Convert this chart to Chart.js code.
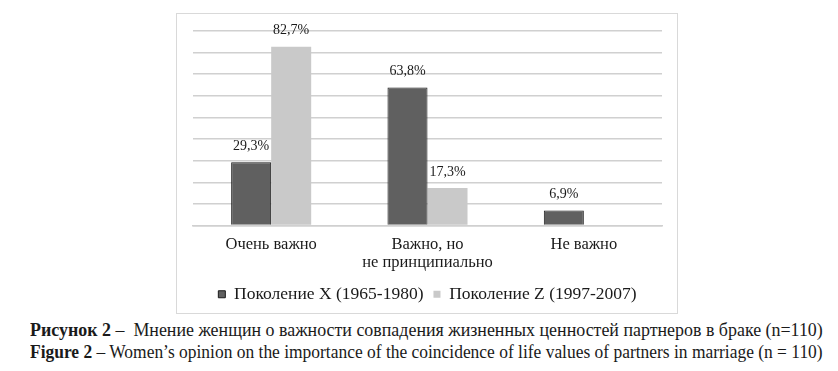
<!DOCTYPE html>
<html>
<head>
<meta charset="utf-8">
<script src="https://cdn.jsdelivr.net/npm/chart.js@4"></script>
<style>
  body { margin: 0; background: #fff; width: 838px; height: 371px; position: relative; overflow: hidden; font-family: "Liberation Serif", serif; }
  #box { position: absolute; left: 176px; top: 13px; width: 500px; height: 299px; border: 1px solid #d9d9d9; }
  #box canvas { display: block; }
  .cap { position: absolute; left: 30px; font-size: 19px; line-height: 22px; color: #1a1a1a; white-space: nowrap; transform-origin: 0 50%; }
</style>
</head>
<body>
<div id="box"><canvas id="chart" width="500" height="299"></canvas></div>
<div class="cap" id="cap1" style="top:319px"><b>Рисунок 2</b> –&nbsp; Мнение женщин о важности совпадения жизненных ценностей партнеров в браке (n=110)</div>
<div class="cap" id="cap2" style="top:341px"><b>Figure 2</b> – Women’s opinion on the importance of the coincidence of life values of partners in marriage (n = 110)</div>
<script>
const categories = [["Очень важно"], ["Важно, но", "не принципиально"], ["Не важно"]];
const genX = [29.3, 63.8, 6.9];
const genZ = [82.7, 17.3, null];
const seriesNames = ["Поколение X (1965-1980)", "Поколение Z (1997-2007)"];

const serif = "'Liberation Serif', serif";

// value labels above bars, with comma decimals
const valueLabels = {
  id: "valueLabels",
  afterDatasetsDraw(c) {
    const ctx = c.ctx;
    ctx.save();
    ctx.font = "14px " + serif;
    ctx.fillStyle = "#1a1a1a";
    ctx.textAlign = "center";
    ctx.textBaseline = "middle";
    c.data.datasets.forEach((ds, i) => {
      c.getDatasetMeta(i).data.forEach((bar, j) => {
        const v = ds.data[j];
        if (v == null) return;
        ctx.fillText(v.toFixed(1).replace(".", ",") + "%", bar.x, bar.y - 16);
      });
    });
    ctx.restore();
  }
};

new Chart(document.getElementById("chart"), {
  type: "bar",
  data: {
    labels: categories,
    datasets: [
      { label: seriesNames[0], data: genX, backgroundColor: "#606060", borderColor: "#1a1a1a", borderWidth: 1 },
      { label: seriesNames[1], data: genZ, backgroundColor: "#c9c9c9", borderColor: "#c9c9c9", borderWidth: 0 }
    ]
  },
  options: {
    responsive: false,
    animation: false,
    layout: { padding: { left: 16, right: 15, top: 17, bottom: 0 } },
    datasets: { bar: { barPercentage: 1, categoryPercentage: 0.512 } },
    scales: {
      x: {
        grid: { display: false },
        border: { color: "#d0d0d0", width: 1.5 },
        ticks: { color: "#1a1a1a", font: { family: serif, size: 16.5, lineHeight: 1.05 }, padding: 3 },
        afterFit(s) { s.height = 50; }
      },
      y: {
        min: 0, max: 90,
        ticks: { display: false, stepSize: 10 },
        grid: { color: "#d0d0d0", lineWidth: 1.5, drawTicks: false },
        border: { display: false },
        afterFit(s) { s.width = 0; }
      }
    },
    plugins: {
      tooltip: { enabled: false },
      legend: {
        position: "bottom",
        labels: {
          color: "#1a1a1a",
          font: { family: serif, size: 17.5 },
          boxWidth: 7, boxHeight: 7, padding: 10
        }
      }
    }
  },
  plugins: [valueLabels]
});

// squeeze captions to the printed width
["cap1", "cap2"].forEach(id => {
  const el = document.getElementById(id);
  el.style.transform = "scaleX(" + (793 / el.offsetWidth) + ")";
});
</script>
</body>
</html>
